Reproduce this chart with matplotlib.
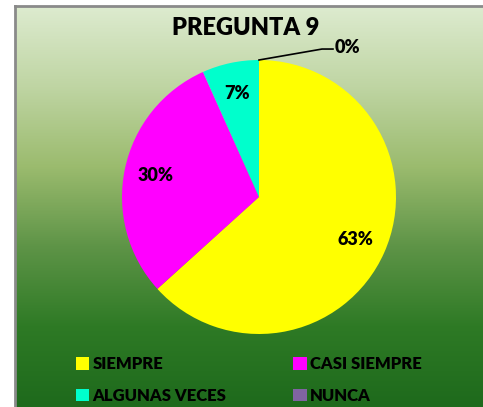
import numpy as np
import matplotlib.pyplot as plt
import matplotlib.patches as mpatches
from matplotlib.colors import LinearSegmentedColormap

plt.rcParams['font.family'] = ['Lato', 'DejaVu Sans']

# data
categories = ['SIEMPRE', 'CASI SIEMPRE', 'ALGUNAS VECES', 'NUNCA']
values = [63.3, 30.0, 6.7, 0.0]
colors = ['#FFFF00', '#FF00FF', '#00FFCC', '#8064A2']
title = 'PREGUNTA 9'

W, H = 483, 407
fig = plt.figure(figsize=(W / 100, H / 100), dpi=100)
fig.patch.set_facecolor('white')

# gradient background panel
bg = fig.add_axes([15 / W, 0, 1 - 15 / W, 1 - 6 / H])
grad = LinearSegmentedColormap.from_list('g', ['#DDEBCF', '#BFD5A3', '#9BBB6E', '#5E9447', '#2E7A25', '#1E6A1C'])
bg.imshow(np.linspace(0, 1, 256).reshape(-1, 1), aspect='auto', cmap=grad, extent=[0, 1, 0, 1])
bg.set_xticks([])
bg.set_yticks([])
for s in ['right', 'bottom']:
    bg.spines[s].set_visible(False)
for s in ['top', 'left']:
    bg.spines[s].set_color('#8A8A8A')
    bg.spines[s].set_linewidth(2)

# pie
cx, cy, r = 259, 197, 137
ax = fig.add_axes([(cx - r) / W, (H - cy - r) / H, 2 * r / W, 2 * r / H])
wedges, texts, autotexts = ax.pie(values, colors=colors, startangle=90, counterclock=False,
                                  autopct=lambda p: f'{p:.0f}%' if p > 0 else '',
                                  pctdistance=0.77,
                                  textprops=dict(fontsize=13, fontweight='heavy', color='black'))
ax.set_xlim(-1, 1)
ax.set_ylim(-1, 1)
ax.set_aspect('auto')

# zero slice label with leader line
ax.plot([0, 0.46, 0.54], [1, 1.08, 1.08], color='black', lw=1.2, clip_on=False)
ax.text(0.55, 1.09, f'{values[3]:.0f}%', fontsize=13, fontweight='heavy', va='center', ha='left')

fig.text(246 / W, 1 - 28 / H, title, fontsize=17, fontweight='heavy', ha='center', va='center')

# legend (row order)
order = [0, 2, 1, 3]
handles = [mpatches.Patch(facecolor=colors[i], label=categories[i]) for i in order]
fig.legend(handles=handles, ncol=2, frameon=False, loc='upper left',
           bbox_to_anchor=(61 / W, 1 - 341 / H), prop=dict(size=12, weight='heavy'),
           handlelength=0.8, handleheight=0.8, handletextpad=0.2,
           columnspacing=4.0, labelspacing=0.95)

fig.savefig('out.png', dpi=100)
